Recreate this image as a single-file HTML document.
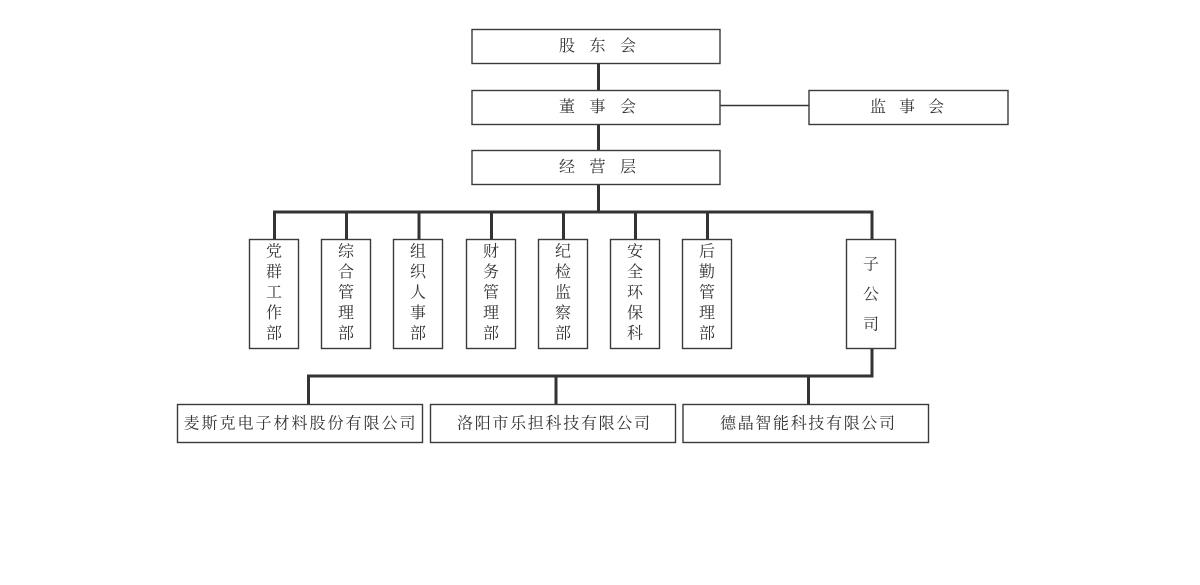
<!DOCTYPE html>
<html>
<head>
<meta charset="utf-8">
<style>
  html, body { margin: 0; padding: 0; background: #ffffff; }
  body { width: 1200px; height: 585px; overflow: hidden; }
  svg { display: block; }
  text { font-family: "Liberation Serif", "Noto Serif CJK SC", serif; font-size: 16px; fill: #333333; }
</style>
</head>
<body>
<svg width="1200" height="585" viewBox="0 0 1200 585" xmlns="http://www.w3.org/2000/svg">
  <rect x="0" y="0" width="1200" height="585" fill="#ffffff"/>

  <!-- connectors -->
  <g stroke="#333333" stroke-width="3" fill="none">
    <line x1="598.5" y1="63" x2="598.5" y2="91"/>
    <line x1="598.5" y1="124" x2="598.5" y2="151"/>
    <line x1="598.5" y1="184" x2="598.5" y2="212"/>
    <line x1="273" y1="212" x2="873.5" y2="212"/>
    <line x1="274.5" y1="212" x2="274.5" y2="240"/>
    <line x1="346.5" y1="212" x2="346.5" y2="240"/>
    <line x1="419" y1="212" x2="419" y2="240"/>
    <line x1="491.5" y1="212" x2="491.5" y2="240"/>
    <line x1="563.5" y1="212" x2="563.5" y2="240"/>
    <line x1="635.5" y1="212" x2="635.5" y2="240"/>
    <line x1="707.5" y1="212" x2="707.5" y2="240"/>
    <line x1="872" y1="212" x2="872" y2="240"/>
    <line x1="872" y1="348" x2="872" y2="376"/>
    <line x1="307" y1="376" x2="873.5" y2="376"/>
    <line x1="308.5" y1="376" x2="308.5" y2="405"/>
    <line x1="556" y1="376" x2="556" y2="405"/>
    <line x1="808.5" y1="376" x2="808.5" y2="405"/>
  </g>
  <line x1="720" y1="105.5" x2="809" y2="105.5" stroke="#333333" stroke-width="1.5"/>

  <!-- boxes -->
  <g stroke="#3a3a3a" stroke-width="1.4" fill="#ffffff">
    <rect x="472" y="29.5" width="248" height="34"/>
    <rect x="472" y="90.5" width="248" height="34"/>
    <rect x="809" y="90.5" width="199" height="34"/>
    <rect x="472" y="150.5" width="248" height="34"/>

    <rect x="249.5" y="239.5" width="49" height="109"/>
    <rect x="321.5" y="239.5" width="49" height="109"/>
    <rect x="393.5" y="239.5" width="49" height="109"/>
    <rect x="466.5" y="239.5" width="49" height="109"/>
    <rect x="538.5" y="239.5" width="49" height="109"/>
    <rect x="610.5" y="239.5" width="49" height="109"/>
    <rect x="682.5" y="239.5" width="49" height="109"/>
    <rect x="846.5" y="239.5" width="49" height="109"/>

    <rect x="177.5" y="404.5" width="245" height="38"/>
    <rect x="430.5" y="404.5" width="245" height="38"/>
    <rect x="683" y="404.5" width="245.5" height="38"/>
  </g>

  <!-- top labels -->
  <g text-anchor="middle" dominant-baseline="central">
    <text x="567 597.5 628" y="46.5">股东会</text>
    <text x="567 597.5 628" y="107.5">董事会</text>
    <text x="878 907 936" y="107.5">监事会</text>
    <text x="567 597.5 628" y="167.5">经营层</text>
  </g>

  <!-- vertical labels -->
  <g text-anchor="middle" dominant-baseline="central">
    <text x="274" y="252">党</text><text x="274" y="272.5">群</text><text x="274" y="293">工</text><text x="274" y="313.5">作</text><text x="274" y="334">部</text>
    <text x="346" y="252">综</text><text x="346" y="272.5">合</text><text x="346" y="293">管</text><text x="346" y="313.5">理</text><text x="346" y="334">部</text>
    <text x="418" y="252">组</text><text x="418" y="272.5">织</text><text x="418" y="293">人</text><text x="418" y="313.5">事</text><text x="418" y="334">部</text>
    <text x="491" y="252">财</text><text x="491" y="272.5">务</text><text x="491" y="293">管</text><text x="491" y="313.5">理</text><text x="491" y="334">部</text>
    <text x="563" y="252">纪</text><text x="563" y="272.5">检</text><text x="563" y="293">监</text><text x="563" y="313.5">察</text><text x="563" y="334">部</text>
    <text x="635" y="252">安</text><text x="635" y="272.5">全</text><text x="635" y="293">环</text><text x="635" y="313.5">保</text><text x="635" y="334">科</text>
    <text x="707" y="252">后</text><text x="707" y="272.5">勤</text><text x="707" y="293">管</text><text x="707" y="313.5">理</text><text x="707" y="334">部</text>
    <text x="871" y="265">子</text><text x="871" y="295">公</text><text x="871" y="325">司</text>
  </g>

  <!-- bottom labels -->
  <g text-anchor="middle" dominant-baseline="central">
    <text x="191.5 209.5 227.5 245.5 263.5 281.5 299.5 317.5 335.5 353.5 371.5 389.5 407.5" y="424">麦斯克电子材料股份有限公司</text>
    <text x="465 482.7 500.4 518.1 535.8 553.5 571.2 588.9 606.6 624.3 642" y="424">洛阳市乐担科技有限公司</text>
    <text x="728 745.7 763.3 781 798.7 816.3 834 851.7 869.3 887" y="424">德晶智能科技有限公司</text>
  </g>
</svg>
</body>
</html>
